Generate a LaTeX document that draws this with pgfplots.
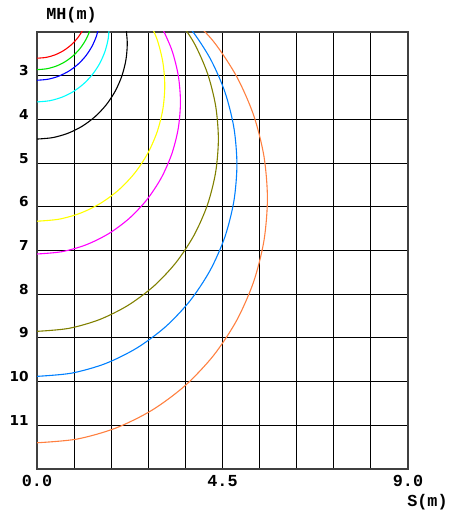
\documentclass[border=0pt]{standalone}
\usepackage{pgfplots}
\pgfplotsset{compat=1.18}
\usepackage{fontspec}
\setmainfont{Liberation Mono}
\newfontfamily\monob{Liberation Mono}
\newfontfamily\dejab{DejaVu Sans}
\definecolor{cRed}{RGB}{255,0,0}
\definecolor{cGreen}{RGB}{0,230,0}
\definecolor{cBlue}{RGB}{0,0,255}
\definecolor{cCyan}{RGB}{0,255,255}
\definecolor{cYellow}{RGB}{255,255,0}
\definecolor{cMagenta}{RGB}{255,0,255}
\definecolor{cOlive}{RGB}{128,128,0}
\definecolor{cSky}{RGB}{0,128,255}
\definecolor{cOrange}{RGB}{255,128,64}
\begin{document}
\begin{tikzpicture}
\begin{axis}[
  scale only axis,
  width=185.5pt, height=218.5pt,
  xmin=0, xmax=9, ymin=2, ymax=12,
  y dir=reverse,
  axis line style={draw=black!75, line width=0.7pt},
  xtick={0,0.9,1.8,2.7,3.6,4.5,5.4,6.3,7.2,8.1,9},
  xticklabels={0.0,,,,,4.5,,,,,9.0},
  ytick={3,4,5,6,7,8,9,10,11},
  yticklabels={3,4,5,6,7,8,9,10,11},
  major tick length=0pt,
  grid=major,
  major grid style={draw=black, line width=0.5pt},
  xticklabel style={font=\monob\bfseries\fontsize{8.4pt}{10pt}\selectfont, anchor=north, inner sep=0pt, yshift=-3pt},
  yticklabel style={font=\dejab\bfseries\fontsize{6.85pt}{8pt}\selectfont, anchor=base east, inner sep=0pt, xshift=-4pt},
  xlabel={S(m)},
  ylabel={MH(m)},
  xlabel style={font=\monob\bfseries\fontsize{8.4pt}{10pt}\selectfont, at={(axis description cs:1.108,-0.0847)}, anchor=base east, inner sep=0pt},
  ylabel style={font=\monob\bfseries\fontsize{8.4pt}{10pt}\selectfont, rotate=-90, at={(axis description cs:0.024,1.0297)}, anchor=base west, inner sep=0pt},
  every axis plot/.append style={line width=0.55pt, smooth, no markers},
]
% red
\addplot[cRed] coordinates {(1.203,1.758)(1.108,1.96)(0.980,2.143)(0.823,2.300)(0.640,2.428)(0.438,2.523)(0.222,2.581)(0,2.60)};
% green
\addplot[cGreen] coordinates {(1.346,1.732)(1.285,1.962)(1.184,2.178)(1.047,2.374)(0.879,2.542)(0.6835,2.679)(0.4675,2.780)(0.2373,2.841)(0,2.862)};
% blue
\addplot[cBlue] coordinates {(1.512,1.835)(1.442,2.094)(1.329,2.337)(1.176,2.556)(0.9867,2.745)(0.7675,2.898)(0.525,3.011)(0.2665,3.081)(0,3.104)};
% cyan
\addplot[cCyan] coordinates {(1.755,1.845)(1.728,2.150)(1.649,2.445)(1.520,2.7225)(1.344,2.973)(1.128,3.189)(0.8775,3.365)(0.600,3.494)(0.3047,3.573)(0,3.600)};
% black
\addplot[black] coordinates {(2.157,1.880)(2.19,2.26)(2.157,2.640)(2.058,3.009)(1.897,3.355)(1.678,3.668)(1.408,3.938)(1.095,4.157)(0.749,4.318)(0.380,4.417)(0,4.45)};
% yellow
\addplot[cYellow] coordinates {(2.685,1.68)(2.913,2.170)(3.053,2.692)(3.10,3.23)(3.053,3.768)(2.913,4.290)(2.685,4.78)(2.375,5.223)(1.993,5.605)(1.55,5.915)(1.060,6.143)(0.538,6.283)(0,6.33)};
% magenta
\addplot[cMagenta] coordinates {(3.014,1.86)(3.270,2.410)(3.427,2.996)(3.48,3.60)(3.427,4.204)(3.270,4.790)(3.014,5.34)(2.666,5.837)(2.237,6.266)(1.74,6.614)(1.190,6.870)(0.604,7.027)(0,7.08)};
% olive
\addplot[cOlive] coordinates {(3.370,1.622)(3.810,2.25)(4.135,2.945)(4.333,3.686)(4.40,4.45)(4.333,5.214)(4.135,5.955)(3.810,6.65)(3.370,7.278)(2.828,7.82)(2.2,8.26)(1.505,8.585)(0.764,8.783)(0,8.85)};
% sky blue
\addplot[cSky] coordinates {(3.118,1.315)(3.715,1.912)(4.200,2.605)(4.558,3.371)(4.776,4.188)(4.85,5.03)(4.776,5.872)(4.558,6.689)(4.200,7.455)(3.715,8.148)(3.118,8.745)(2.425,9.23)(1.659,9.588)(0.842,9.806)(0,9.88)};
% orange
\addplot[cOrange] coordinates {(3.593,1.528)(4.282,2.217)(4.841,3.015)(5.253,3.898)(5.505,4.84)(5.59,5.81)(5.505,6.78)(5.253,7.722)(4.841,8.605)(4.282,9.403)(3.593,10.092)(2.795,10.651)(1.912,11.063)(0.970,11.315)(0,11.40)};
\end{axis}
\pgfresetboundingbox
\useasboundingbox (-18.5pt,-21.5pt) rectangle (206pt,234.5pt);
\end{tikzpicture}
\end{document}
